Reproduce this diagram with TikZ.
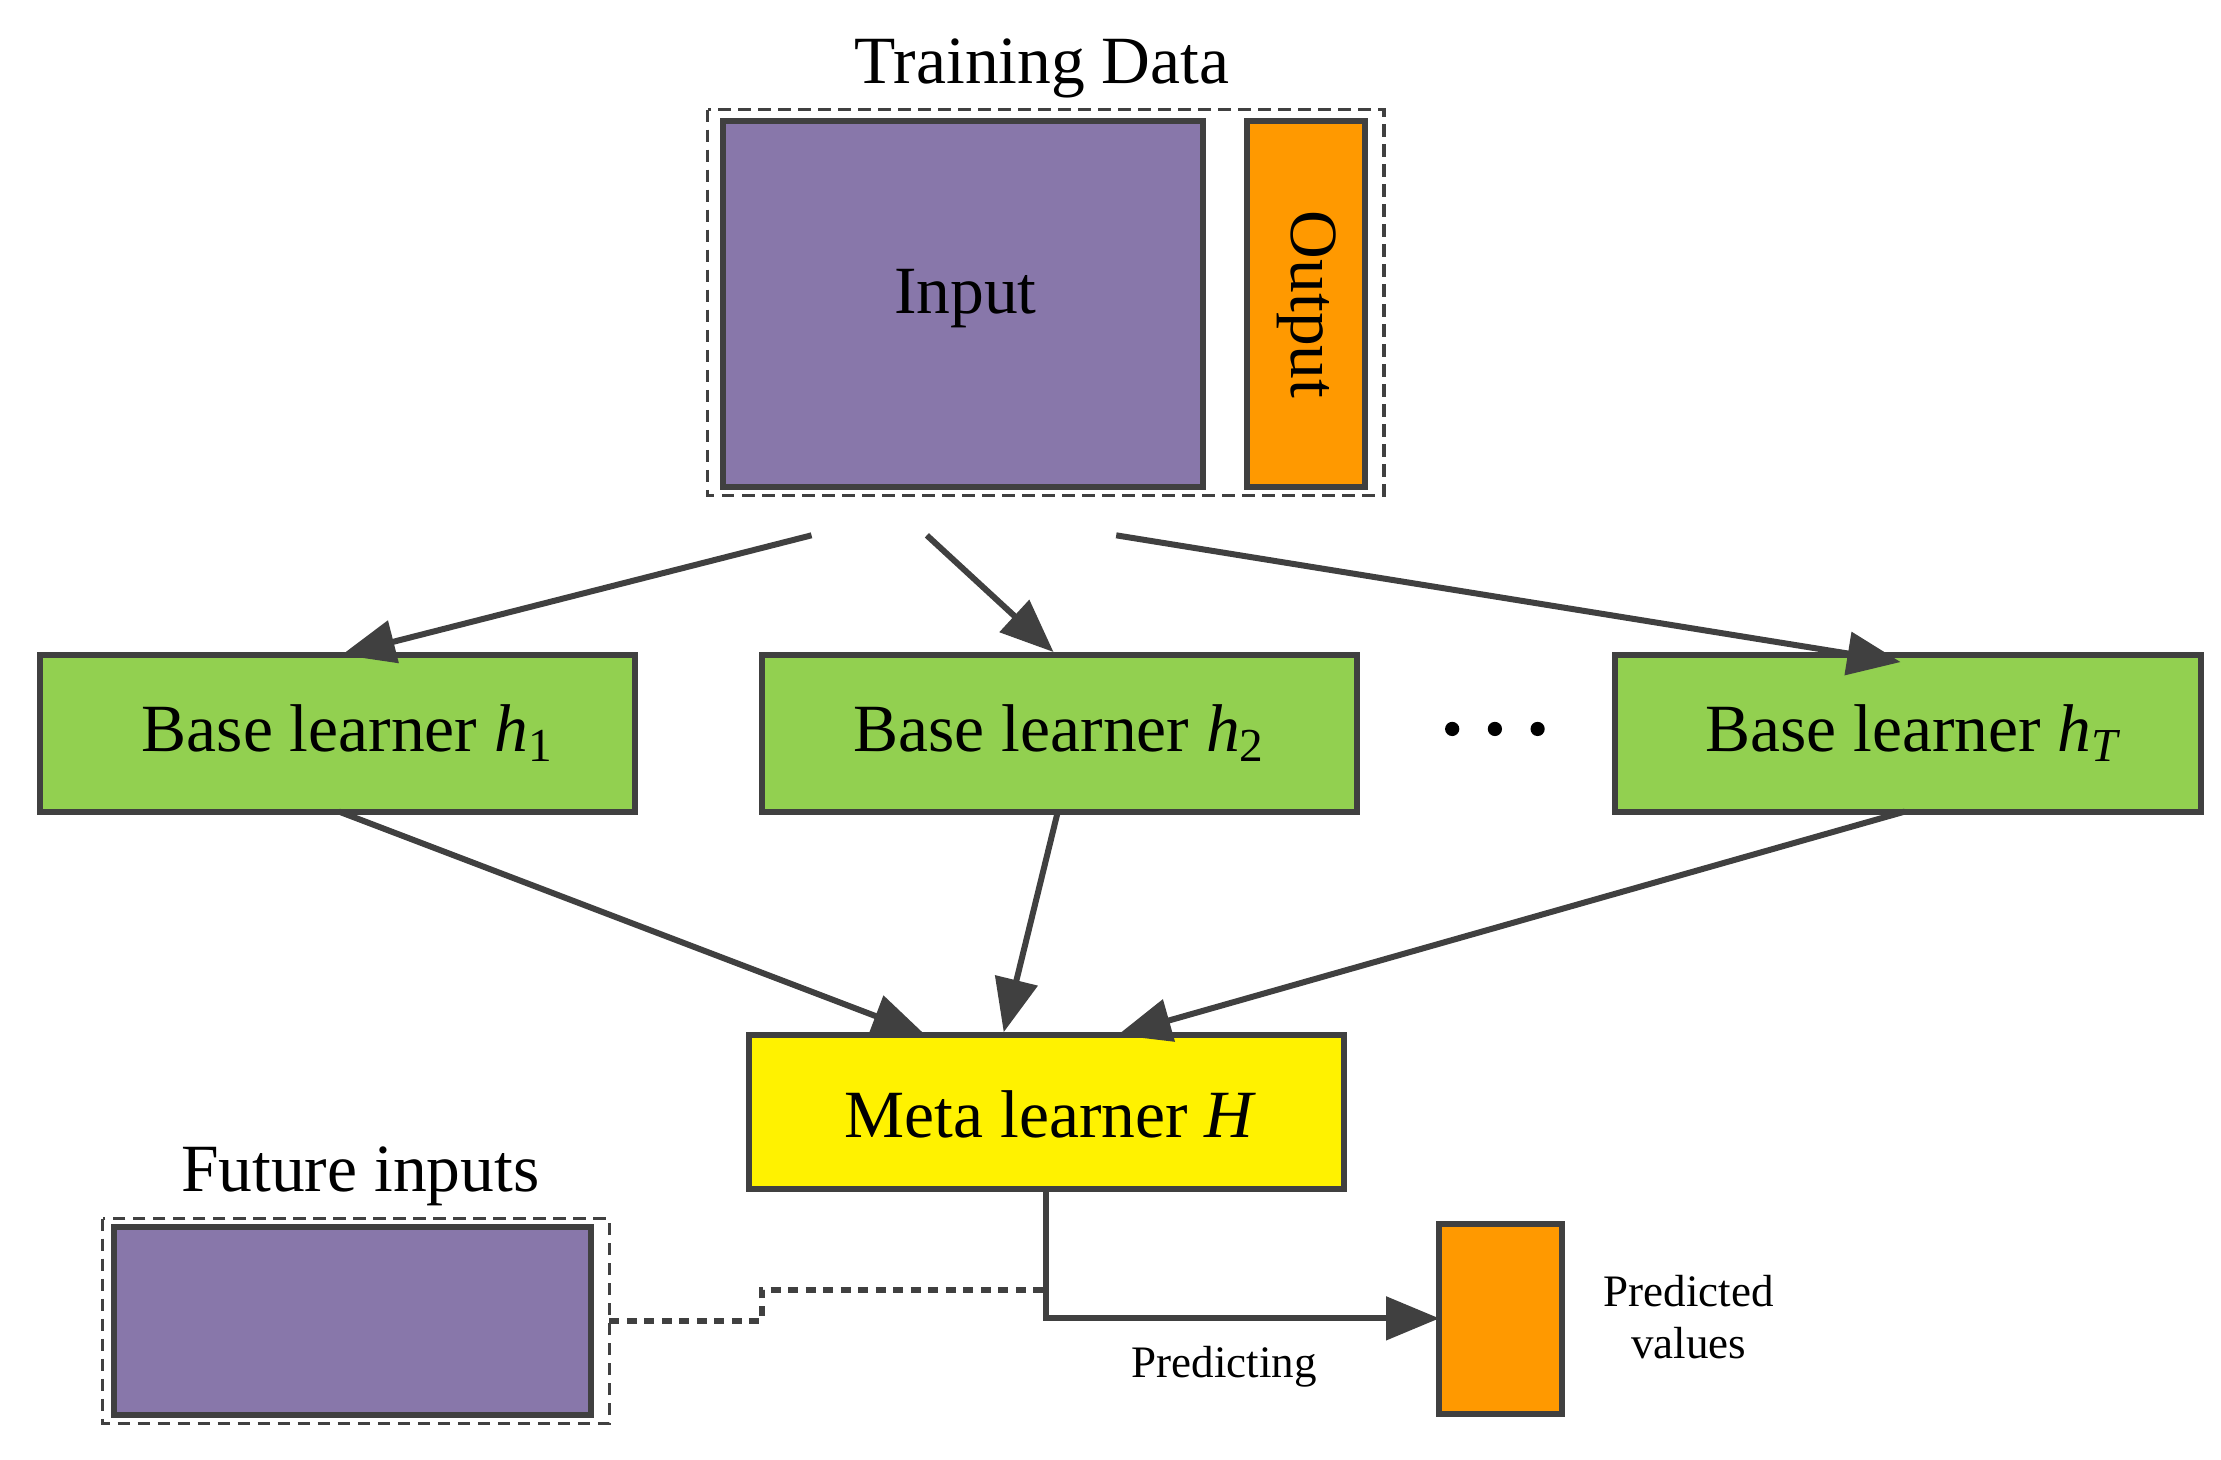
\documentclass[tikz,border=0pt]{standalone}
\usepackage{fontspec}
\setmainfont{Liberation Serif}
\usetikzlibrary{arrows.meta}
\definecolor{purp}{HTML}{8877AA}
\definecolor{org}{HTML}{FF9900}
\definecolor{grn}{HTML}{92D050}
\definecolor{ln}{HTML}{404040}
\begin{document}
\begin{tikzpicture}[x=0.02cm,y=-0.02cm,
 box/.style={draw=ln,line width=2.4pt},
 arr/.style={draw=ln,line width=2.4pt,-{Triangle[length=0.75cm,width=0.6cm]}},
 dashbox/.style={draw=ln,line width=1.4pt,dash pattern=on 5pt off 3pt},
 big/.style={font=\fontsize{27}{30}\selectfont},
 sm/.style={font=\fontsize{18}{21}\selectfont,align=center}]
\useasboundingbox (0,0) rectangle (1560,1025);
\draw[dashbox] (497,77) rectangle (972,348);
\node[big] (td) at (732,48) {Training Data};
\draw[box,fill=purp] (508,85) rectangle (845,342);
\node[big] (in) at (678,210) {Input};
\draw[box,fill=org] (876,85) rectangle (959,342);
\node[big,rotate=-90] (out) at (918,214) {Output};
\draw[box,fill=grn] (28,460) rectangle (446,570);
\node[big] (h1) at (244,515) {Base learner \textit{h}\textsubscript{1}};
\draw[box,fill=grn] (535,460) rectangle (953,570);
\node[big] (h2) at (744,515) {Base learner \textit{h}\textsubscript{2}};
\draw[box,fill=grn] (1134,460) rectangle (1546,570);
\node[big] (hT) at (1344,515) {Base learner \textit{h}\textsubscript{\textit{T}}};
\foreach \x in {1020,1050,1080} \fill (\x,512) circle (0.1cm);
\draw[box,fill=yellow] (526,727) rectangle (944,835);
\node[big] (H) at (738,783) {Meta learner \textit{H}};
\node[big] (fi) at (253,826) {Future inputs};
\draw[dashbox] (72,856) rectangle (428,1000);
\draw[box,fill=purp] (80,862) rectangle (415,994);
\draw[box,fill=org] (1011,860) rectangle (1097,993);
\node[sm] (pv) at (1186,925) {Predicted\\values};
\node[sm] (pr) at (860,960) {Predicting};
\coordinate (a1) at (570,376); \coordinate (b1) at (240,460);
\coordinate (a2) at (651,376); \coordinate (b2) at (740,458);
\coordinate (a3) at (784,376); \coordinate (b3) at (1335,465);
\draw[arr] (a1) -- (b1);
\draw[arr] (a2) -- (b2);
\draw[arr] (a3) -- (b3);
\coordinate (c1) at (238,570); \coordinate (d1) at (650,727);
\coordinate (c2) at (743,570); \coordinate (d2) at (705,725);
\coordinate (c3) at (1338,570); \coordinate (d3) at (785,727);
\draw[arr] (c1) -- (d1);
\draw[arr] (c2) -- (d2);
\draw[arr] (c3) -- (d3);
\coordinate (m) at (735,835); \coordinate (p) at (1011,926);
\draw[arr] (m) -- (735,926) -- (p);
\coordinate (f) at (428,928); \coordinate (j) at (735,906);
\draw[draw=ln,line width=2.4pt,dash pattern=on 4pt off 3pt] (f) -- (535,928) -- (535,906) -- (j);
\end{tikzpicture}
\end{document}
